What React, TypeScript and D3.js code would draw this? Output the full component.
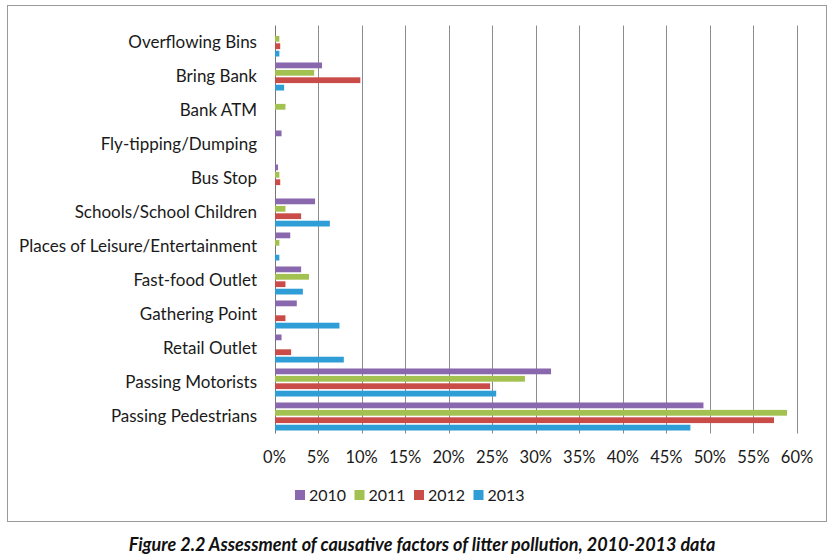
import { useEffect, useRef } from 'react';
import * as d3 from 'd3';

const CATEGORIES = [
  'Overflowing Bins',
  'Bring Bank',
  'Bank ATM',
  'Fly-tipping/Dumping',
  'Bus Stop',
  'Schools/School Children',
  'Places of Leisure/Entertainment',
  'Fast-food Outlet',
  'Gathering Point',
  'Retail Outlet',
  'Passing Motorists',
  'Passing Pedestrians',
];

const YEARS = ['2010', '2011', '2012', '2013'];

// percent values per category, one array per year
const V2010 = [0, 5.4, 0, 0.75, 0.35, 4.6, 1.75, 3.0, 2.5, 0.75, 31.7, 49.2];
const V2011 = [0.5, 4.5, 1.2, 0, 0.5, 1.2, 0.5, 3.9, 0, 0, 28.7, 58.8];
const V2012 = [0.6, 9.8, 0, 0, 0.6, 3.0, 0, 1.2, 1.2, 1.85, 24.7, 57.3];
const V2013 = [0.5, 1.05, 0, 0, 0, 6.3, 0.5, 3.2, 7.4, 7.9, 25.4, 47.7];

const SERIES = [V2010, V2011, V2012, V2013];
const COLORS = ['#8a68ae', '#a3c150', '#c94c48', '#2f9dd6'];
const TICKS = d3.range(0, 61, 5);

const W = 837;
const H = 559;
const PLOT = { left: 274.5, right: 797, top: 25.5, bottom: 433.5 };
const FONT = 'Lato, "Open Sans", sans-serif';

export default function App() {
  const svgRef = useRef<SVGSVGElement>(null);

  useEffect(() => {
    if (!svgRef.current) return;
    const svg = d3.select(svgRef.current);
    svg.selectAll('*').remove();

    const x = d3.scaleLinear().domain([0, 60]).range([PLOT.left, PLOT.right]);
    const y = d3
      .scaleBand()
      .domain(CATEGORIES)
      .range([PLOT.top, PLOT.bottom])
      .paddingInner(0.08)
      .paddingOuter(0.04);
    const yInner = d3.scaleBand().domain(YEARS).range([0, y.bandwidth()]).padding(0.22);

    // frame
    svg.append('rect')
      .attr('x', 7.5).attr('y', 5.5)
      .attr('width', 819).attr('height', 516)
      .attr('fill', '#fff')
      .attr('stroke', '#9a9a9a')
      .attr('stroke-width', 1);

    // gridlines
    svg.append('g')
      .selectAll('line')
      .data(TICKS)
      .join('line')
      .attr('x1', (d) => Math.round(x(d)) + 0.5)
      .attr('x2', (d) => Math.round(x(d)) + 0.5)
      .attr('y1', PLOT.top)
      .attr('y2', PLOT.bottom)
      .attr('stroke', (d) => (d === 0 ? '#777' : '#8c8c8c'))
      .attr('stroke-width', 1);

    // bars
    const groups = svg.append('g')
      .selectAll('g')
      .data(CATEGORIES)
      .join('g')
      .attr('transform', (c) => `translate(0,${y(c)})`);

    groups.selectAll('rect')
      .data((_c, i) => SERIES.map((s, k) => ({ year: YEARS[k], value: s[i], k })))
      .join('rect')
      .filter((d) => d.value > 0)
      .attr('x', x(0) + 0.5)
      .attr('y', (d) => yInner(d.year)!)
      .attr('width', (d) => x(d.value) - x(0))
      .attr('height', yInner.bandwidth())
      .attr('fill', (d) => COLORS[d.k]);

    // category labels
    svg.append('g')
      .selectAll('text')
      .data(CATEGORIES)
      .join('text')
      .attr('x', 257)
      .attr('y', (c) => y(c)! + y.bandwidth() / 2)
      .attr('dy', '0.35em')
      .attr('text-anchor', 'end')
      .attr('font-family', FONT)
      .attr('font-size', 17)
      .attr('fill', '#1a1a1a')
      .text((c) => c);

    // x tick labels
    svg.append('g')
      .selectAll('text')
      .data(TICKS)
      .join('text')
      .attr('x', (d) => x(d))
      .attr('y', 457)
      .attr('dy', '0.35em')
      .attr('text-anchor', 'middle')
      .attr('font-family', FONT)
      .attr('font-size', 16.5)
      .attr('fill', '#1a1a1a')
      .text((d) => `${d}%`);

    // legend
    const legend = svg.append('g')
      .selectAll('g')
      .data(YEARS)
      .join('g')
      .attr('transform', (_d, i) => `translate(${295 + i * 59.5},495)`);
    legend.append('rect')
      .attr('x', 0).attr('y', -5)
      .attr('width', 10).attr('height', 10)
      .attr('fill', (_d, i) => COLORS[i]);
    legend.append('text')
      .attr('x', 14)
      .attr('dy', '0.35em')
      .attr('font-family', FONT)
      .attr('font-size', 16)
      .attr('fill', '#1a1a1a')
      .text((d) => d);

    // caption
    svg.append('text')
      .attr('x', 422)
      .attr('y', 545)
      .attr('dy', '0.35em')
      .attr('text-anchor', 'middle')
      .attr('font-family', FONT)
      .attr('font-size', 18)
      .attr('font-weight', 'bold')
      .attr('font-style', 'italic')
      .attr('fill', '#111')
      .text('Figure 2.2 Assessment of causative factors of litter pollution, 2010-2013 data');
  }, []);

  return (
    <svg
      ref={svgRef}
      width={W}
      height={H}
      style={{ position: 'absolute', left: 0, top: 0, background: '#fff' }}
    />
  );
}
